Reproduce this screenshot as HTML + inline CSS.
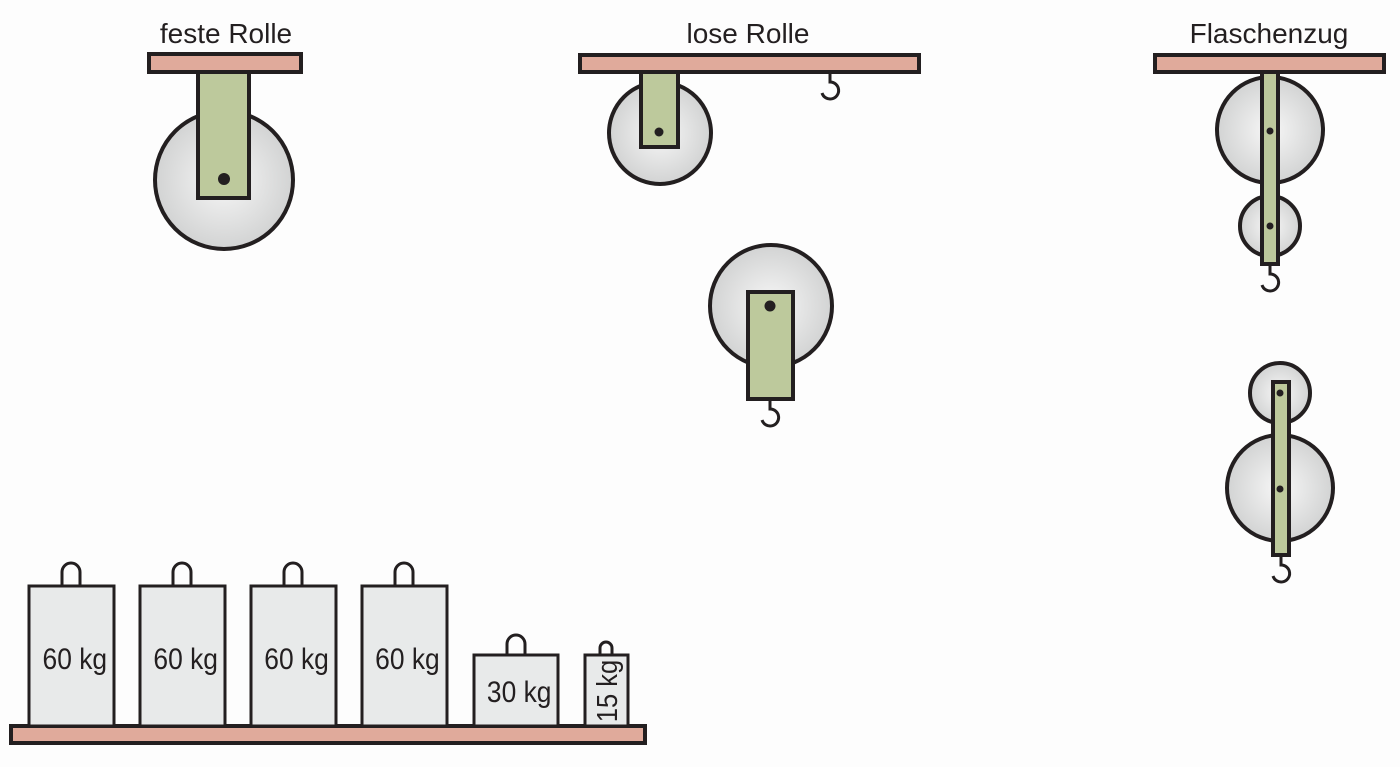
<!DOCTYPE html>
<html><head><style>html,body{margin:0;padding:0;background:#fdfdfd}</style></head><body>
<svg width="1400" height="762" viewBox="0 0 1400 762" xmlns="http://www.w3.org/2000/svg" font-family="Liberation Sans, sans-serif">
<defs>
<radialGradient id="g" cx="50%" cy="50%" r="50%"><stop offset="0" stop-color="#f7f7f7"/><stop offset="1" stop-color="#d2d3d3"/></radialGradient>
</defs>
<g stroke="#231f20" stroke-width="4">
<rect x="149" y="54" width="152" height="18" fill="#e0aa9b"/>
<circle cx="224" cy="180" r="69" fill="url(#g)"/>
<rect x="198" y="72" width="51" height="126" fill="#bdc99c"/>
<rect x="580" y="55" width="339" height="17" fill="#e0aa9b"/>
<circle cx="660" cy="133" r="51" fill="url(#g)"/>
<rect x="641" y="72" width="37" height="75" fill="#bdc99c"/>
<circle cx="771" cy="306" r="61" fill="url(#g)"/>
<rect x="748" y="292" width="45" height="107" fill="#bdc99c"/>
<rect x="1155" y="55" width="229" height="17" fill="#e0aa9b"/>
<circle cx="1270" cy="130" r="53" fill="url(#g)"/>
<circle cx="1270" cy="226" r="30" fill="url(#g)"/>
<rect x="1262" y="72" width="16" height="192" fill="#bdc99c"/>
<circle cx="1280" cy="393" r="30" fill="url(#g)"/>
<circle cx="1280" cy="488" r="53" fill="url(#g)"/>
<rect x="1273" y="382" width="16" height="173" fill="#bdc99c"/>
<rect x="11" y="726" width="634" height="17" fill="#e0aa9b"/>
<g fill="none" stroke-width="3">
<path d="M62 586 V572 a9 9 0 0 1 18 0 V586"/>
<path d="M173 586 V572 a9 9 0 0 1 18 0 V586"/>
<path d="M284 586 V572 a9 9 0 0 1 18 0 V586"/>
<path d="M395 586 V572 a9 9 0 0 1 18 0 V586"/>
<path d="M507 655 V644 a9 9 0 0 1 18 0 V655"/>
<path d="M600 655 V648 a6 6 0 0 1 12 0 V655"/>
<path d="M830 72 V82 a8.5 8.5 0 1 1 -8 11"/>
<path d="M770 399 V409 a8.5 8.5 0 1 1 -8 11"/>
<path d="M1270 264 V274 a8.5 8.5 0 1 1 -8 11"/>
<path d="M1281 555 V565 a8.5 8.5 0 1 1 -8 11"/>
</g>
<g stroke-width="3" fill="#e8eaea">
<rect x="29" y="586" width="85" height="140"/>
<rect x="140" y="586" width="85" height="140"/>
<rect x="251" y="586" width="85" height="140"/>
<rect x="362" y="586" width="85" height="140"/>
<rect x="474" y="655" width="84" height="71"/>
<rect x="585" y="655" width="43" height="71"/>
</g>
</g>
<g fill="#231f20">
<circle cx="224" cy="179" r="6"/>
<circle cx="659" cy="132" r="4.5"/>
<circle cx="770" cy="306" r="5.5"/>
<circle cx="1270" cy="131" r="3.5"/>
<circle cx="1270" cy="226" r="3.5"/>
<circle cx="1280" cy="393" r="3.5"/>
<circle cx="1280" cy="489" r="3.5"/>
</g>
<g fill="#231f20" font-size="28" text-anchor="middle">
<text x="226" y="43">feste Rolle</text>
<text x="748" y="43">lose Rolle</text>
<text x="1269" y="43">Flaschenzug</text>
<g transform="scale(0.88,1)" font-size="30">
<text x="85" y="669">60 kg</text>
<text x="211" y="669">60 kg</text>
<text x="337" y="669">60 kg</text>
<text x="463" y="669">60 kg</text>
<text x="590" y="702">30 kg</text>
</g>
<text transform="translate(617,691) rotate(-90) scale(0.88,1)" x="0" y="0" font-size="29">15 kg</text>
</g>
</svg>
</body></html>
